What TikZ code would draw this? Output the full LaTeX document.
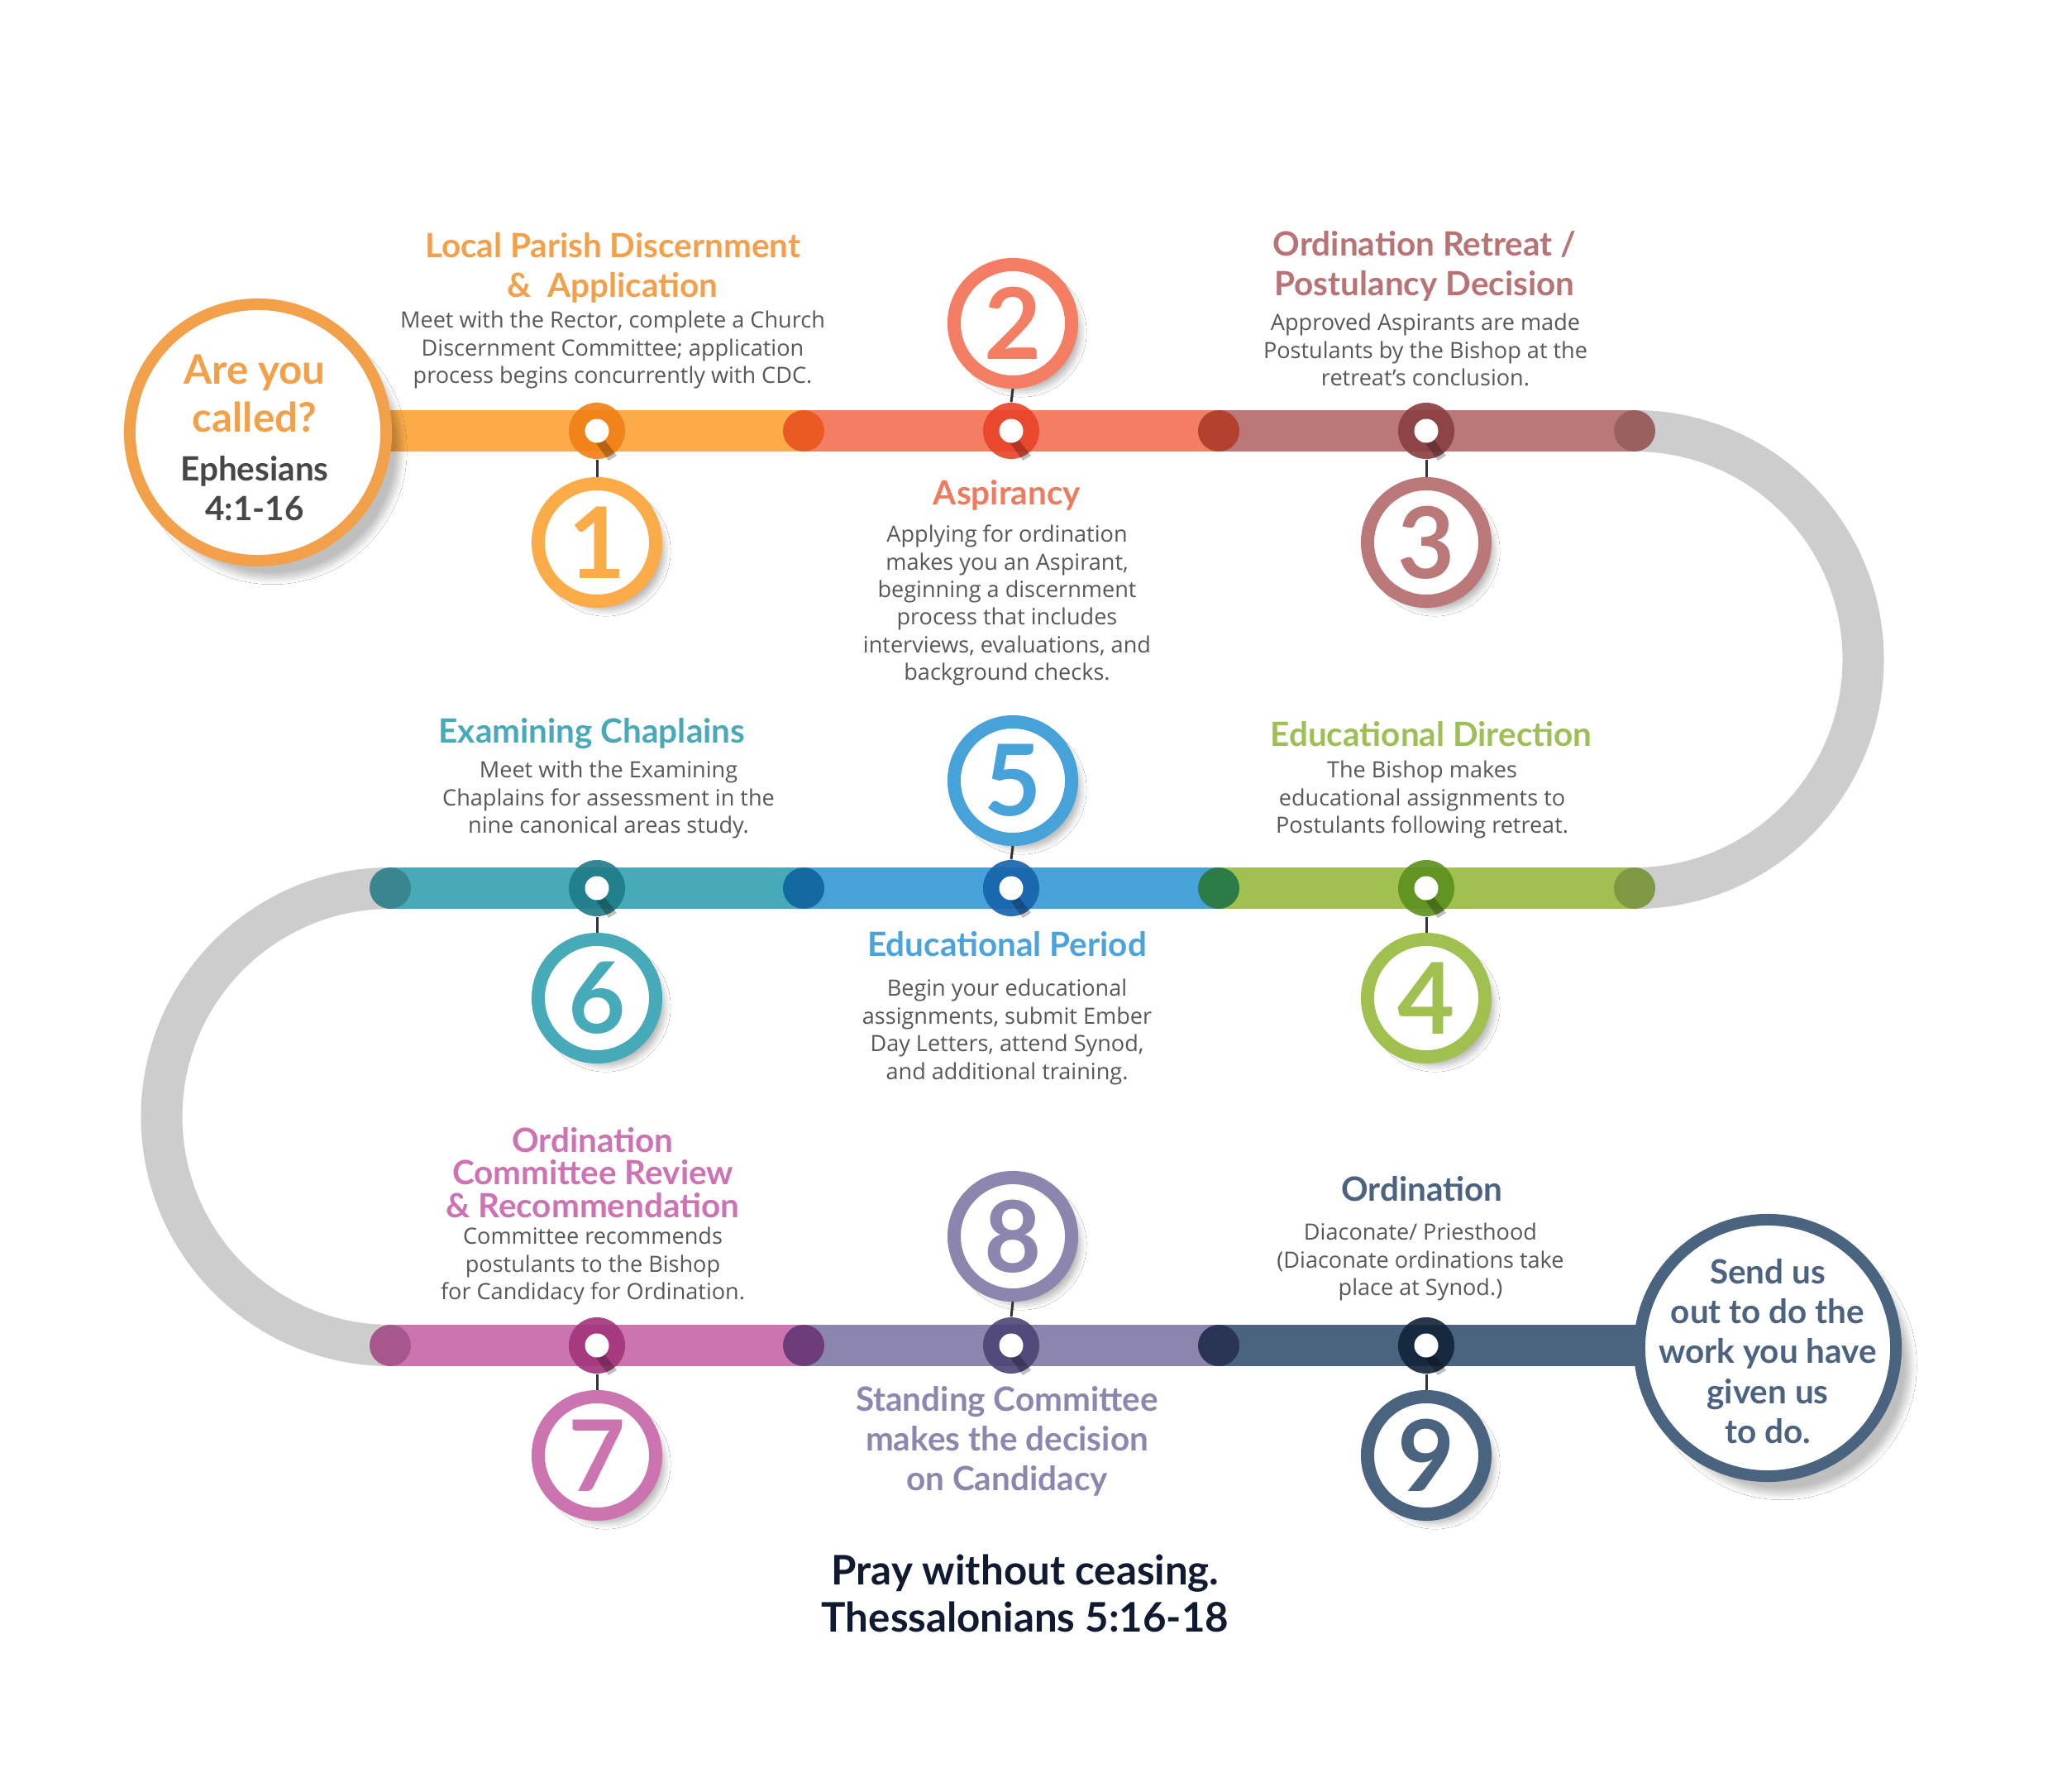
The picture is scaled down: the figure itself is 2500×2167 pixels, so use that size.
\documentclass[tikz,border=0pt]{standalone}
\usepackage{fontspec}
\setmainfont{Open Sans}
\newfontfamily\titlefont{Lato}
\usetikzlibrary{shadows.blur}
\definecolor{gr}{HTML}{CDCDCD}
\definecolor{bodyc}{HTML}{585858}
\definecolor{sA}{HTML}{FBAB48}\definecolor{sB}{HTML}{F47E63}\definecolor{sC}{HTML}{BA7879}
\definecolor{sD}{HTML}{A0C14F}\definecolor{sE}{HTML}{48A2DA}\definecolor{sF}{HTML}{47AAB8}
\definecolor{sG}{HTML}{CB74B0}\definecolor{sH}{HTML}{8C85AD}\definecolor{sI}{HTML}{4A637F}
\definecolor{dA}{HTML}{F07F16}\definecolor{dB}{HTML}{E8432A}\definecolor{dC}{HTML}{8A3E3F}
\definecolor{dD}{HTML}{5C901F}\definecolor{dE}{HTML}{1562AA}\definecolor{dF}{HTML}{1F7B88}
\definecolor{dG}{HTML}{A2347B}\definecolor{dH}{HTML}{4D4476}\definecolor{dI}{HTML}{122338}
\definecolor{tA}{HTML}{F2A04A}\definecolor{tB}{HTML}{EF7B5E}\definecolor{tC}{HTML}{B87475}
\definecolor{tD}{HTML}{9DBF55}\definecolor{tE}{HTML}{4BA3D9}\definecolor{tF}{HTML}{4AA9B8}
\definecolor{tG}{HTML}{CD72B2}\definecolor{tH}{HTML}{8E86AE}\definecolor{tI}{HTML}{4B6380}
\definecolor{kA}{HTML}{EB5A22}\definecolor{kB}{HTML}{B2412F}\definecolor{kC}{HTML}{9A6060}
\definecolor{kD}{HTML}{3A8690}\definecolor{kE}{HTML}{146AA0}\definecolor{kF}{HTML}{2D7C48}
\definecolor{kG}{HTML}{7E9944}\definecolor{kH}{HTML}{A6578C}\definecolor{kI}{HTML}{6C3D78}
\definecolor{kJ}{HTML}{2A3454}
\definecolor{navy}{HTML}{101A30}
\definecolor{eph}{HTML}{474747}
\newcommand\ttlf{\fontsize{11.5}{13.6}\selectfont\titlefont\bfseries}
\newcommand\bodyf{\fontsize{7.7}{9.5}\selectfont}
\tikzset{
  band/.style={line width=0.5cm},
  dotn/.style={circle, fill=#1, minimum size=0.68cm, inner sep=0pt, fill opacity=0.9},
  numc/.style={circle, draw=#1, line width=0.16cm, fill=white, minimum size=1.42cm, inner sep=0pt,
     text=#1, font=\fontsize{34}{34}\selectfont\titlefont\bfseries,
     blur shadow={shadow xshift=3pt, shadow yshift=-3pt, shadow blur steps=8, shadow opacity=30}},
  bigc/.style={circle, draw=#1, line width=0.14cm, fill=white, minimum size=3.1cm, inner sep=0pt,
     blur shadow={shadow xshift=5pt, shadow yshift=-6pt, shadow blur steps=10, shadow opacity=25}},
  conn/.style={draw=black!80, line width=0.03cm},
  ttl/.style={align=center, text=#1, font=\ttlf},
  body/.style={align=center, text=bodyc, font=\bodyf},
}
\begin{document}
\begin{tikzpicture}[x=0.01cm,y=-0.01cm]
\useasboundingbox (0,0) rectangle (2500,2167);
\fill[white] (0,0) rectangle (2500,2167);
% grey bends
\draw[band, gr] (1977,521) arc[start angle=-90, end angle=90, radius=276.5];
\draw[band, gr] (472,1074) arc[start angle=-90, end angle=-270, radius=276.5];
% bands
\draw[band, sA] (312,521) -- (972,521);
\draw[band, sB] (972,521) -- (1474,521);
\draw[band, sC] (1474,521) -- (1977,521);
\draw[band, sF] (472,1074) -- (972,1074);
\draw[band, sE] (972,1074) -- (1474,1074);
\draw[band, sD] (1474,1074) -- (1977,1074);
\draw[band, sG] (472,1627) -- (972,1627);
\draw[band, sH] (972,1627) -- (1474,1627);
\draw[band, sI] (1474,1627) -- (2050,1627);
% caps
\fill[kA] (972,521) circle[radius=25];
\fill[kB] (1474,521) circle[radius=25];
\fill[kC] (1977,521) circle[radius=25];
\fill[kD] (472,1074) circle[radius=25];
\fill[kE] (972,1074) circle[radius=25];
\fill[kF] (1474,1074) circle[radius=25];
\fill[kG] (1977,1074) circle[radius=25];
\fill[kH] (472,1627) circle[radius=25];
\fill[kI] (972,1627) circle[radius=25];
\fill[kJ] (1474,1627) circle[radius=25];
% big circles
\node[bigc=tA] (start) at (312,523) {};
\node[align=center, text=tA, font=\fontsize{14}{16.3}\selectfont\titlefont\bfseries] (q1) at (308,476) {Are you\\called?};
\node[align=center, text=eph, font=\fontsize{11.5}{13.6}\selectfont\titlefont\bfseries] (q2) at (308,591) {Ephesians\\4:1-16};
\node[bigc=sI] (send) at (2138,1630) {};
\node[align=center, text=tI, font=\fontsize{11.5}{13.7}\selectfont\titlefont\bfseries] (sendt) at (2138,1634)
  {Send us\\out to do the\\work you have\\given us\\to do.};
% dots on the line
\node[dotn=dA] (n1) at (722,521) {};
\node[dotn=dB] (n2) at (1223,521) {};
\node[dotn=dC] (n3) at (1725,521) {};
\node[dotn=dD] (n4) at (1725,1074) {};
\node[dotn=dE] (n5) at (1223,1074) {};
\node[dotn=dF] (n6) at (722,1074) {};
\node[dotn=dG] (n7) at (722,1627) {};
\node[dotn=dH] (n8) at (1223,1627) {};
\node[dotn=dI] (n9) at (1725,1627) {};
\foreach \n in {n1,n2,n3,n4,n5,n6,n7,n8,n9}{
  \fill[black, opacity=0.25] ([shift={(4,4)}]\n.center) -- ([shift={(24,30)}]\n.center) -- ([shift={(14,36)}]\n.center) -- ([shift={(-6,8)}]\n.center) -- cycle;
  \fill[white] (\n.center) circle[radius=14.5];
}
% number circles
\node[numc=sA] (c1) at (722,656) {1};
\node[numc=sB] (c2) at (1225,391) {2};
\node[numc=sC] (c3) at (1725,656) {3};
\node[numc=sD] (c4) at (1725,1207) {4};
\node[numc=sE] (c5) at (1225,944) {5};
\node[numc=sF] (c6) at (722,1207) {6};
\node[numc=sG] (c7) at (722,1760) {7};
\node[numc=sH] (c8) at (1225,1495) {8};
\node[numc=sI] (c9) at (1725,1760) {9};
% connectors
\draw[conn] (n1.south) -- (c1.north);
\draw[conn] (n2.north) -- (c2.south);
\draw[conn] (n3.south) -- (c3.north);
\draw[conn] (n4.south) -- (c4.north);
\draw[conn] (n5.north) -- (c5.south);
\draw[conn] (n6.south) -- (c6.north);
\draw[conn] (n7.south) -- (c7.north);
\draw[conn] (n8.north) -- (c8.south);
\draw[conn] (n9.south) -- (c9.north);
% texts
\node[ttl=tA] (t1) at (741,324) {Local Parish Discernment\\\&\ \ Application};
\node[body] (b1) at (741,423) {Meet with the Rector, complete a Church\\Discernment Committee; application\\process begins concurrently with CDC.};
\node[ttl=tC] (t3) at (1723,322) {Ordination Retreat /\\Postulancy Decision};
\node[body] (b3) at (1724,423) {Approved Aspirants are made\\Postulants by the Bishop at the\\retreat's conclusion.};
\node[ttl=tB] (t2) at (1218,599) {Aspirancy};
\node[body] (b2) at (1218,732) {Applying for ordination\\makes you an Aspirant,\\beginning a discernment\\process that includes\\interviews, evaluations, and\\background checks.};
\node[ttl=tF] (t6) at (716,887) {Examining Chaplains};
\node[body] (b6) at (736,967) {Meet with the Examining\\Chaplains for assessment in the\\nine canonical areas study.};
\node[ttl=tD] (t4) at (1731,888) {Educational Direction};
\node[body] (b4) at (1720,967) {The Bishop makes\\educational assignments to\\Postulants following retreat.};
\node[ttl=tE] (t5) at (1218,1142) {Educational Period};
\node[body] (b5) at (1218,1248) {Begin your educational\\assignments, submit Ember\\Day Letters, attend Synod,\\and additional training.};
\node[ttl=tG, font=\fontsize{11.5}{11.2}\selectfont\titlefont\bfseries] (t7) at (717,1418) {Ordination\\Committee Review\\\& Recommendation};
\node[body] (b7) at (717,1531) {Committee recommends\\postulants to the Bishop\\for Candidacy for Ordination.};
\node[ttl=tI] (t9) at (1720,1438) {Ordination};
\node[body] (b9) at (1718,1526) {Diaconate/ Priesthood\\(Diaconate ordinations take\\place at Synod.)};
\node[ttl=tH] (t8) at (1218,1743) {Standing Committee\\makes the decision\\on Candidacy};
\node[align=center, text=navy, font=\fontsize{14}{16.3}\selectfont\titlefont\bfseries] (pray) at (1240,1927) {Pray without ceasing.\\Thessalonians 5:16-18};
\end{tikzpicture}
\end{document}
